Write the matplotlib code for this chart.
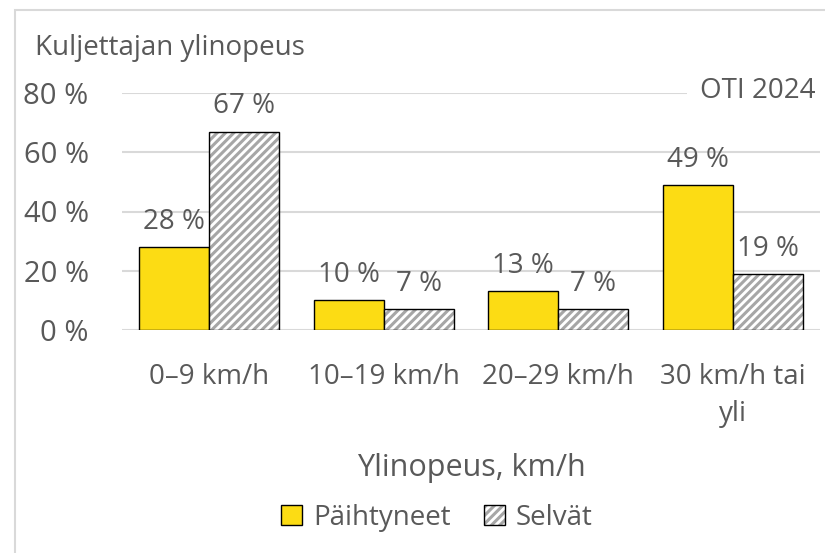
import matplotlib.pyplot as plt
import matplotlib.patches as mpatches
import numpy as np

# data
categories = ["0–9 km/h", "10–19 km/h", "20–29 km/h", "30 km/h tai\nyli"]
paihtyneet = [28, 10, 13, 49]
selvat = [67, 7, 7, 19]
series_names = ["Päihtyneet", "Selvät"]
yticks = [0, 20, 40, 60, 80]

GREY = "#595959"
YELLOW = "#FCDC14"
HATCH = "#a6a6a6"

plt.rcParams["font.family"] = ["Open Sans", "DejaVu Sans"]
plt.rcParams["hatch.linewidth"] = 2.2

fig = plt.figure(figsize=(8.25, 5.53), dpi=100)
ax = fig.add_axes([122 / 825, 1 - 330 / 553, (820 - 122) / 825, (330 - 93) / 553])

# outer chart frame
fig.patches.append(mpatches.Rectangle((15 / 825, -0.1), 1.0, 1 - 10 / 553 + 0.1,
                                      transform=fig.transFigure, fill=False,
                                      edgecolor="#d9d9d9", linewidth=1.5, zorder=0))

x = np.arange(len(categories))
w = 0.4
b1 = ax.bar(x - w / 2, paihtyneet, w, color=YELLOW, edgecolor="black", linewidth=1.0, zorder=3)
# hatched bars: grey hatch first, black outline on top
b2h = ax.bar(x + w / 2, selvat, w, color="white", edgecolor=HATCH, linewidth=0,
             hatch="////", zorder=3)
b2 = ax.bar(x + w / 2, selvat, w, fill=False, edgecolor="black", linewidth=1.0, zorder=4)

for bars, vals in ((b1, paihtyneet), (b2, selvat)):
    for r, v in zip(bars, vals):
        ax.annotate(f"{v} %", (r.get_x() + r.get_width() / 2, v), xytext=(0, 8),
                    textcoords="offset points", ha="center", va="bottom",
                    fontsize=20, color=GREY)

ax.set_xlim(-0.5, 3.5)
ax.set_ylim(0, 80)
ax.set_yticks(yticks)
ax.set_yticklabels([f"{t} %" for t in yticks])
ax.set_xticks(x)
ax.set_xticklabels(categories, linespacing=1.4)
ax.tick_params(axis="y", length=0, pad=24, labelsize=21, labelcolor=GREY)
ax.tick_params(axis="x", length=0, pad=24, labelsize=20, labelcolor=GREY)
ax.grid(axis="y", color="#d9d9d9", linewidth=1.5, zorder=0)
for s in ax.spines.values():
    s.set_visible(False)

ax.set_xlabel("Ylinopeus, km/h", fontsize=22, color=GREY, labelpad=18)

fig.text(35 / 825, 1 - 48 / 553, "Kuljettajan ylinopeus", fontsize=20, color=GREY,
         va="center", ha="left")
fig.text(815 / 825, 1 - 91 / 553, "OTI 2024", fontsize=20, color=GREY, va="center", ha="right",
         bbox=dict(facecolor="white", edgecolor="none", pad=9), zorder=5)

fig.legend(handles=[b1, (b2h, b2)], labels=series_names, loc="center",
           bbox_to_anchor=(437 / 825, 1 - 518 / 553),
           ncol=2, frameon=False, fontsize=20, labelcolor=GREY, handlelength=0.75, handleheight=0.75,
           columnspacing=1.2, handletextpad=0.4)

fig.savefig("out.png", dpi=100)
